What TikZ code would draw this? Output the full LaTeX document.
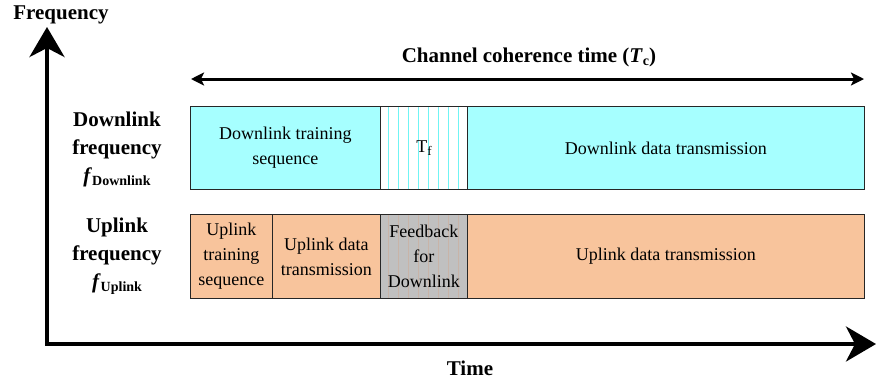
\documentclass[tikz,border=0pt]{standalone}
\usepackage{fontspec}
\setmainfont{Liberation Serif}
\usepackage{tikz}
\usetikzlibrary{arrows.meta, positioning}
\definecolor{DLCyan}{HTML}{A6FFFF}
\definecolor{DLHatch}{HTML}{70F4F4}
\definecolor{ULOrange}{HTML}{F8C49C}
\definecolor{FBGray}{HTML}{C0C0C0}
\definecolor{FBHatch}{HTML}{C8B4A8}
\tikzset{
  slot/.style={draw=black!85, line width=0.9pt, anchor=north west, inner sep=0pt,
    align=center, font=\fontsize{18}{25}\selectfont},
  dlslot/.style={slot, fill=DLCyan, minimum height=83},
  ulslot/.style={slot, fill=ULOrange, minimum height=84},
  hatched/.style={path picture={
    \foreach \k in {8,18,...,78}
      \draw[#1, line width=0.8pt] ([xshift=\k pt]path picture bounding box.south west)
        -- ([xshift=\k pt]path picture bounding box.north west);}},
  axislbl/.style={font=\fontsize{21}{28}\selectfont\bfseries, align=center},
  axis/.style={line width=4pt, {Stealth[length=30pt, width=35pt, inset=9pt]}-{Stealth[length=30pt, width=35pt, inset=9pt]}},
  span/.style={line width=3pt, {Stealth[length=13pt, width=13pt, inset=3pt]}-{Stealth[length=13pt, width=13pt, inset=3pt]}}
}
\newcommand{\subbf}[1]{\raisebox{-3pt}{\fontsize{14}{14}\selectfont\bfseries #1}}
\begin{document}
\begin{tikzpicture}[x=1pt, y=-1pt]
  \useasboundingbox (0,0) rectangle (877,384);

  % axes
  \coordinate (fTip) at (47,27);
  \coordinate (origin) at (47,344);
  \coordinate (tTip) at (876,344);
  \draw[axis, line join=miter] (fTip) -- (origin) -- (tTip);
  \node[axislbl] (freq) at (61,15) {Frequency};
  \node[axislbl] (time) at (470,368) {Time};

  % coherence time
  \coordinate (tcL) at (191,79);
  \coordinate (tcR) at (864,79);
  \draw[span] (tcL) -- (tcR);
  \node[axislbl] (tc) at (529,57) {Channel coherence time (\textit{T}\subbf{c})};

  % downlink row
  \node[dlslot, minimum width=190] (dltrain) at (190,106) {Downlink training\\sequence};
  \node[dlslot, fill=white, hatched=DLHatch, minimum width=87] (tf) at (380,106) {T\raisebox{-3pt}{\fontsize{13}{13}\selectfont f}};
  \node[dlslot, minimum width=397] (dldata) at (467,106) {Downlink data transmission};

  % uplink row
  \node[ulslot, minimum width=82] (ultrain) at (190,214) {Uplink\\training\\sequence};
  \node[ulslot, minimum width=108] (uldata) at (272,214) {Uplink data\\transmission};
  \node[ulslot, fill=FBGray, hatched=FBHatch, minimum width=87] (fb) at (380,214) {Feedback\\for\\Downlink};
  \node[ulslot, minimum width=397] (uldata2) at (467,214) {Uplink data transmission};

  % row labels
  \node[axislbl] (dlfreq) at (117,149) {Downlink\\frequency\\\textit{f}\subbf{Downlink}};
  \node[axislbl] (ulfreq) at (117,256) {Uplink\\frequency\\\textit{f}\subbf{Uplink}};
\end{tikzpicture}
\end{document}
